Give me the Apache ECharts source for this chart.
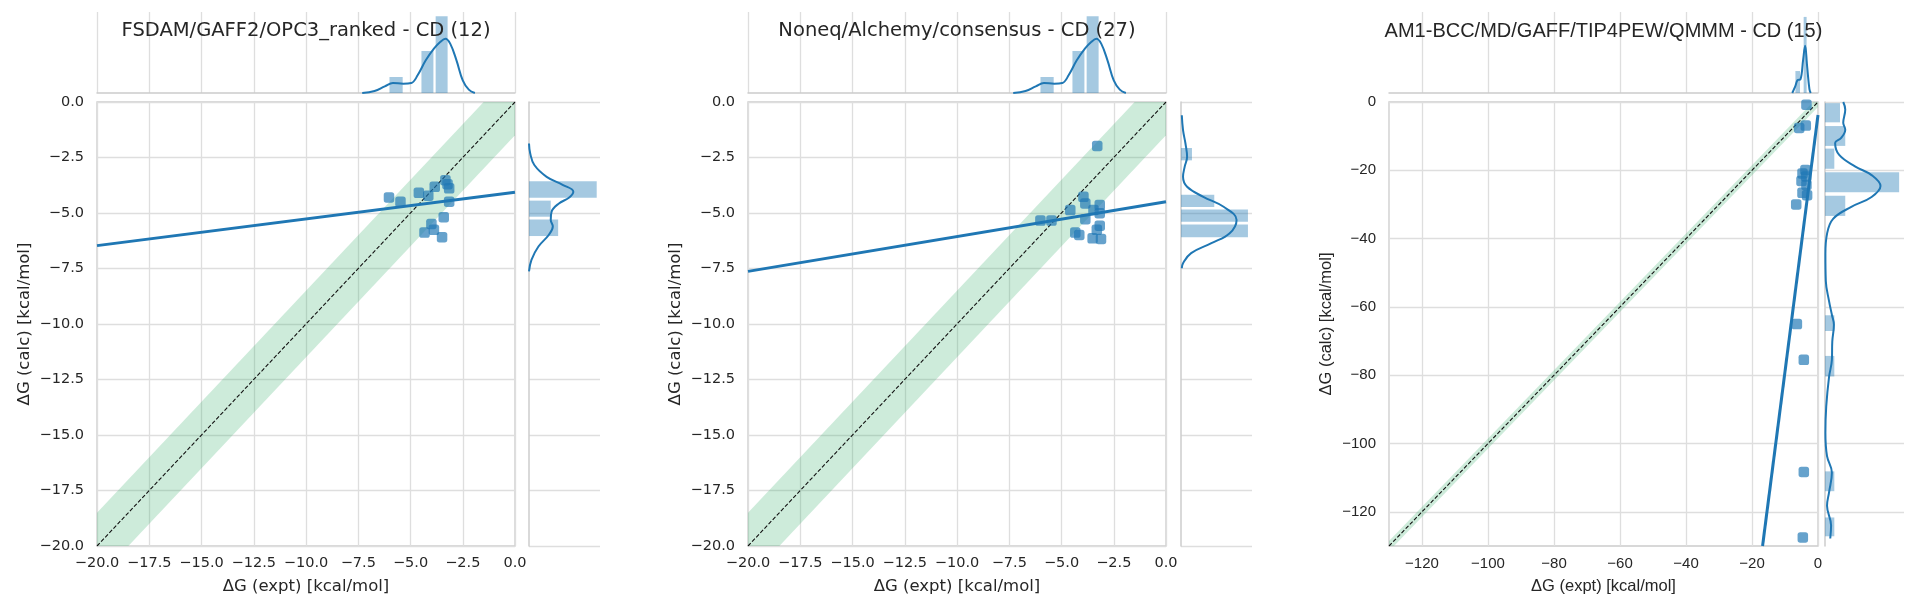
<!DOCTYPE html>
<html>
<head>
<meta charset="utf-8">
<title>ΔG calc vs expt</title>
<script src="https://cdn.jsdelivr.net/npm/echarts@6/dist/echarts.min.js"></script>
<style>
  html, body { margin: 0; padding: 0; background: #fff; }
  #chart { width: 1920px; height: 608px; }
</style>
</head>
<body>
<div id="chart"></div>
<script>
// text
const titles = ['FSDAM/GAFF2/OPC3_ranked - CD (12)', 'Noneq/Alchemy/consensus - CD (27)', 'AM1-BCC/MD/GAFF/TIP4PEW/QMMM - CD (15)'];
const xLabel = 'ΔG (expt) [kcal/mol]';
const yLabel = 'ΔG (calc) [kcal/mol]';

// axis ranges + tick labels
const rangeSmall = [-20, 0];
const ticksSmall = [-20, -17.5, -15, -12.5, -10, -7.5, -5, -2.5, 0];
const rangeLarge = [-130, 0];
const ticksLarge = [-120, -100, -80, -60, -40, -20, 0];

const bandHalfWidth = 1.5;

// experimental marginal (same for panel 1 and 2): [x0, x1, height]
const exptHist = [[-6.03, -5.35, 48], [-4.5, -3.88, 126], [-3.82, -3.2, 230]];
const exptKde = [[-7.31, 0], [-6.72, 6], [-6.23, 20], [-5.84, 30], [-5.35, 28], [-4.96, 30], [-4.66, 53], [-4.27, 98],
  [-3.88, 133], [-3.58, 153], [-3.33, 163], [-3.1, 148], [-2.8, 98], [-2.5, 38], [-2.21, 10], [-1.92, 0]];

// panel 1
const p1Points = [[-6.03, -4.30], [-5.48, -4.49], [-4.60, -4.09], [-4.15, -4.22], [-3.84, -3.82], [-3.33, -3.52],
  [-3.23, -3.70], [-3.15, -3.89], [-3.15, -4.49], [-3.41, -5.19], [-4.0, -5.49], [-3.88, -5.76], [-4.33, -5.88], [-3.49, -6.09]];
const p1Reg = [[-20, -6.47], [0, -4.07]];
// side marginal: [yTop, yBottom, length]
const p1SideHist = [[-3.55, -4.34, 165], [-4.42, -5.19, 53], [-5.27, -6.06, 71]];
const p1SideKde = [[0, -1.87], [3, -2.32], [13, -2.84], [43, -3.37], [83, -3.74], [108, -4.04], [98, -4.3], [73, -4.57],
  [55, -4.94], [53, -5.31], [58, -5.61], [48, -5.99], [23, -6.51], [6, -7.11], [0, -7.63]];

// panel 2
const p2Points = [[-3.29, -1.98], [-3.95, -4.27], [-3.86, -4.57], [-4.58, -4.87], [-6.01, -5.34], [-5.48, -5.34],
  [-3.86, -5.28], [-3.47, -4.87], [-3.17, -4.64], [-3.17, -5.01], [-3.17, -5.57], [-3.31, -5.76], [-4.34, -5.88],
  [-4.15, -5.99], [-3.51, -6.14], [-3.11, -6.17]];
const p2Reg = [[-20, -7.63], [0, -4.49]];
const p2SideHist = [[-2.05, -2.65, 27], [-4.15, -4.75, 82], [-4.82, -5.42, 165], [-5.49, -6.11, 165]];
const p2SideKde = [[2, -0.6], [5, -1.27], [11, -1.87], [15, -2.47], [9, -2.92], [5, -3.37], [15, -3.82], [55, -4.27],
  [105, -4.72], [137, -5.31], [120, -5.91], [75, -6.36], [25, -6.81], [5, -7.26], [2, -7.49]];

// panel 3
const p3Points = [[-3.5, -0.8], [-5.7, -7.6], [-3.7, -6.9], [-3.8, -19.9], [-4.7, -20.9], [-3.6, -21.8], [-5.0, -23.1],
  [-3.5, -24.3], [-4.7, -26.6], [-3.3, -27.3], [-6.6, -30.0], [-6.4, -65.0], [-4.3, -75.5], [-4.3, -108.3], [-4.6, -127.5]];
const p3Reg = [[-16.8, -130], [0, -3.8]];
const p3TopHist = [[-7.0, -5.3, 67], [-4.5, -3.3, 232]];
const p3TopKde = [[-7.8, 0], [-6.9, 20], [-6.2, 39], [-5.3, 42], [-4.5, 102], [-3.9, 144], [-3.3, 82], [-2.6, 12], [-2.2, 0]];
const p3SideHist = [[-0.2, -6.1, 37], [-6.9, -13, 50], [-13.5, -19.7, 23], [-20.4, -26.6, 183], [-27.3, -33.5, 50],
  [-62.3, -67.2, 23], [-74.2, -80.5, 23], [-108, -114.1, 23], [-121.5, -127.3, 23]];
const p3SideKde = [[45, 0], [50, -2.2], [45, -6.1], [50, -8.1], [40, -10.5], [25, -12], [35, -15.5], [75, -18.9],
  [115, -21.4], [137, -24.6], [115, -27.8], [65, -30.7], [20, -34.2], [5, -38.6], [1, -44.5], [2, -52.4], [10, -58.3],
  [17, -62.3], [22, -65.2], [18, -70.1], [17, -75.5], [10, -80.5], [3, -89.2], [1, -96.9], [5, -103.7], [17, -108.5],
  [10, -114.3], [5, -118.2], [15, -124], [13, -127.8]];

const GRID = '#dedede';
const EDGE = '#cccccc';
const TEXT = '#262626';
const BLUE = '#1f77b4';
const BAR = 'rgba(31,119,180,0.4)';

const minus = v => (v < 0 ? '\u2212' : '') + Math.abs(v);
const fmtSmall = v => (v < 0 ? '\u2212' : '') + Math.abs(v).toFixed(1);
const fmtLarge = v => ticksLarge.includes(v) ? minus(v) : '';

const panels = [
  { title: titles[0], font: 'DejaVu Sans', titleSize: 19.5, tickSize: 14.5, range: rangeSmall, fmt: fmtSmall,
    step: { interval: 2.5 }, left: 97, width: 418, sideLeft: 529, sideWidth: 71, yGap: 64,
    points: p1Points, reg: p1Reg, topHist: exptHist, topKde: exptKde, topMax: 243,
    sideHist: p1SideHist, sideKde: p1SideKde, sideMax: 173 },
  { title: titles[1], font: 'DejaVu Sans', titleSize: 19.5, tickSize: 14.5, range: rangeSmall, fmt: fmtSmall,
    step: { interval: 2.5 }, left: 748, width: 418, sideLeft: 1181, sideWidth: 71, yGap: 64,
    points: p2Points, reg: p2Reg, topHist: exptHist, topKde: exptKde, topMax: 243,
    sideHist: p2SideHist, sideKde: p2SideKde, sideMax: 175 },
  { title: titles[2], font: 'Liberation Sans', titleSize: 20, tickSize: 15, range: rangeLarge, fmt: fmtLarge,
    step: { minInterval: 20, maxInterval: 20 }, left: 1389, width: 429, sideLeft: 1825, sideWidth: 79, yGap: 54,
    points: p3Points, reg: p3Reg, topHist: p3TopHist, topKde: p3TopKde, topMax: 247,
    sideHist: p3SideHist, sideKde: p3SideKde, sideMax: 195 }
];

const MAIN_TOP = 102, MAIN_H = 444, TOP_TOP = 12, TOP_H = 81;

function bandItem(params, api) {
  const x0 = api.value(0), x1 = api.value(1), w = api.value(2);
  const pts = [[x0, x0 - w], [x1, x1 - w], [x1, x1 + w], [x0, x0 + w]].map(p => api.coord(p));
  return { type: 'polygon', shape: { points: pts }, style: { fill: 'rgba(60,179,113,0.26)' } };
}
function topBar(params, api) {
  const a = api.coord([api.value(0), 0]);
  const b = api.coord([api.value(1), api.value(2)]);
  return { type: 'rect', shape: { x: a[0] + 0.5, y: b[1], width: b[0] - a[0] - 1, height: a[1] - b[1] }, style: { fill: BAR } };
}
function sideBar(params, api) {
  const a = api.coord([0, api.value(0)]);
  const b = api.coord([api.value(2), api.value(1)]);
  return { type: 'rect', shape: { x: a[0], y: a[1] + 0.5, width: b[0] - a[0], height: b[1] - a[1] - 1 }, style: { fill: BAR } };
}

const grid = [], xAxis = [], yAxis = [], series = [], title = [];

panels.forEach((p, i) => {
  const g = i * 3;
  const split = { show: true, showMinLine: i !== 2, lineStyle: { color: GRID, width: 1.3, type: 'solid' } };
  const tick = { color: TEXT, fontSize: p.tickSize, fontFamily: p.font };
  const nameStyle = { color: TEXT, fontSize: 16.5, fontFamily: p.font };

  title.push({ text: p.title, left: p.left + p.width / 2, top: 21, textAlign: 'center', padding: 0,
    textStyle: { color: TEXT, fontSize: p.titleSize, fontWeight: 'normal', fontFamily: p.font } });

  // main, top marginal, side marginal
  grid.push({ left: p.left, top: MAIN_TOP, width: p.width, height: MAIN_H, show: true, borderColor: EDGE, borderWidth: 1.3 });
  grid.push({ left: p.left, top: TOP_TOP, width: p.width, height: TOP_H });
  grid.push({ left: p.sideLeft, top: MAIN_TOP, width: p.sideWidth, height: MAIN_H });

  xAxis.push(Object.assign({ type: 'value', gridIndex: g, min: p.range[0], max: p.range[1],
    axisLine: { show: false }, axisTick: { show: false }, splitLine: split,
    axisLabel: Object.assign({ formatter: p.fmt, margin: 10 }, tick),
    name: xLabel, nameLocation: 'middle', nameGap: 32, nameTextStyle: nameStyle }, p.step));
  yAxis.push(Object.assign({ type: 'value', gridIndex: g, min: p.range[0], max: p.range[1],
    axisLine: { show: false }, axisTick: { show: false }, splitLine: split,
    axisLabel: Object.assign({ formatter: p.fmt, margin: 13 }, tick),
    name: yLabel, nameLocation: 'middle', nameRotate: 90, nameGap: p.yGap, nameTextStyle: nameStyle }, p.step));

  xAxis.push(Object.assign({ type: 'value', gridIndex: g + 1, min: p.range[0], max: p.range[1],
    axisLine: { show: true, lineStyle: { color: EDGE, width: 1.5 } }, axisTick: { show: false },
    axisLabel: { show: false }, splitLine: split }, p.step));
  yAxis.push({ type: 'value', gridIndex: g + 1, min: 0, max: p.topMax, show: false });

  xAxis.push({ type: 'value', gridIndex: g + 2, min: 0, max: p.sideMax, show: false });
  yAxis.push(Object.assign({ type: 'value', gridIndex: g + 2, min: p.range[0], max: p.range[1],
    axisLine: { show: true, lineStyle: { color: EDGE, width: 1.5 } }, axisTick: { show: false },
    axisLabel: { show: false }, splitLine: split }, p.step));

  series.push({ type: 'custom', xAxisIndex: g, yAxisIndex: g, clip: true, z: 1,
    data: [[p.range[0], p.range[1], bandHalfWidth]], renderItem: bandItem });
  series.push({ type: 'line', xAxisIndex: g, yAxisIndex: g, z: 2, showSymbol: false, clip: true,
    data: [[p.range[0], p.range[0]], [p.range[1], p.range[1]]],
    lineStyle: { color: '#111', width: 1.1, type: [4, 2] } });
  series.push({ type: 'scatter', xAxisIndex: g, yAxisIndex: g, z: 3, data: p.points,
    symbol: 'roundRect', symbolSize: 10.5, itemStyle: { color: 'rgba(31,119,180,0.85)' } });
  series.push({ type: 'line', xAxisIndex: g, yAxisIndex: g, z: 4, showSymbol: false, clip: true,
    data: p.reg, lineStyle: { color: BLUE, width: 3 } });

  series.push({ type: 'custom', xAxisIndex: g + 1, yAxisIndex: g + 1, data: p.topHist, renderItem: topBar });
  series.push({ type: 'line', xAxisIndex: g + 1, yAxisIndex: g + 1, showSymbol: false, smooth: 0.4,
    data: p.topKde, lineStyle: { color: BLUE, width: 2 } });
  series.push({ type: 'custom', xAxisIndex: g + 2, yAxisIndex: g + 2, data: p.sideHist, renderItem: sideBar });
  series.push({ type: 'line', xAxisIndex: g + 2, yAxisIndex: g + 2, showSymbol: false, smooth: 0.4,
    data: p.sideKde, lineStyle: { color: BLUE, width: 2 } });
});

const chart = echarts.init(document.getElementById('chart'));
chart.setOption({ animation: false, backgroundColor: '#fff', title, grid, xAxis, yAxis, series });
window.addEventListener('resize', () => chart.resize());
</script>
</body>
</html>
